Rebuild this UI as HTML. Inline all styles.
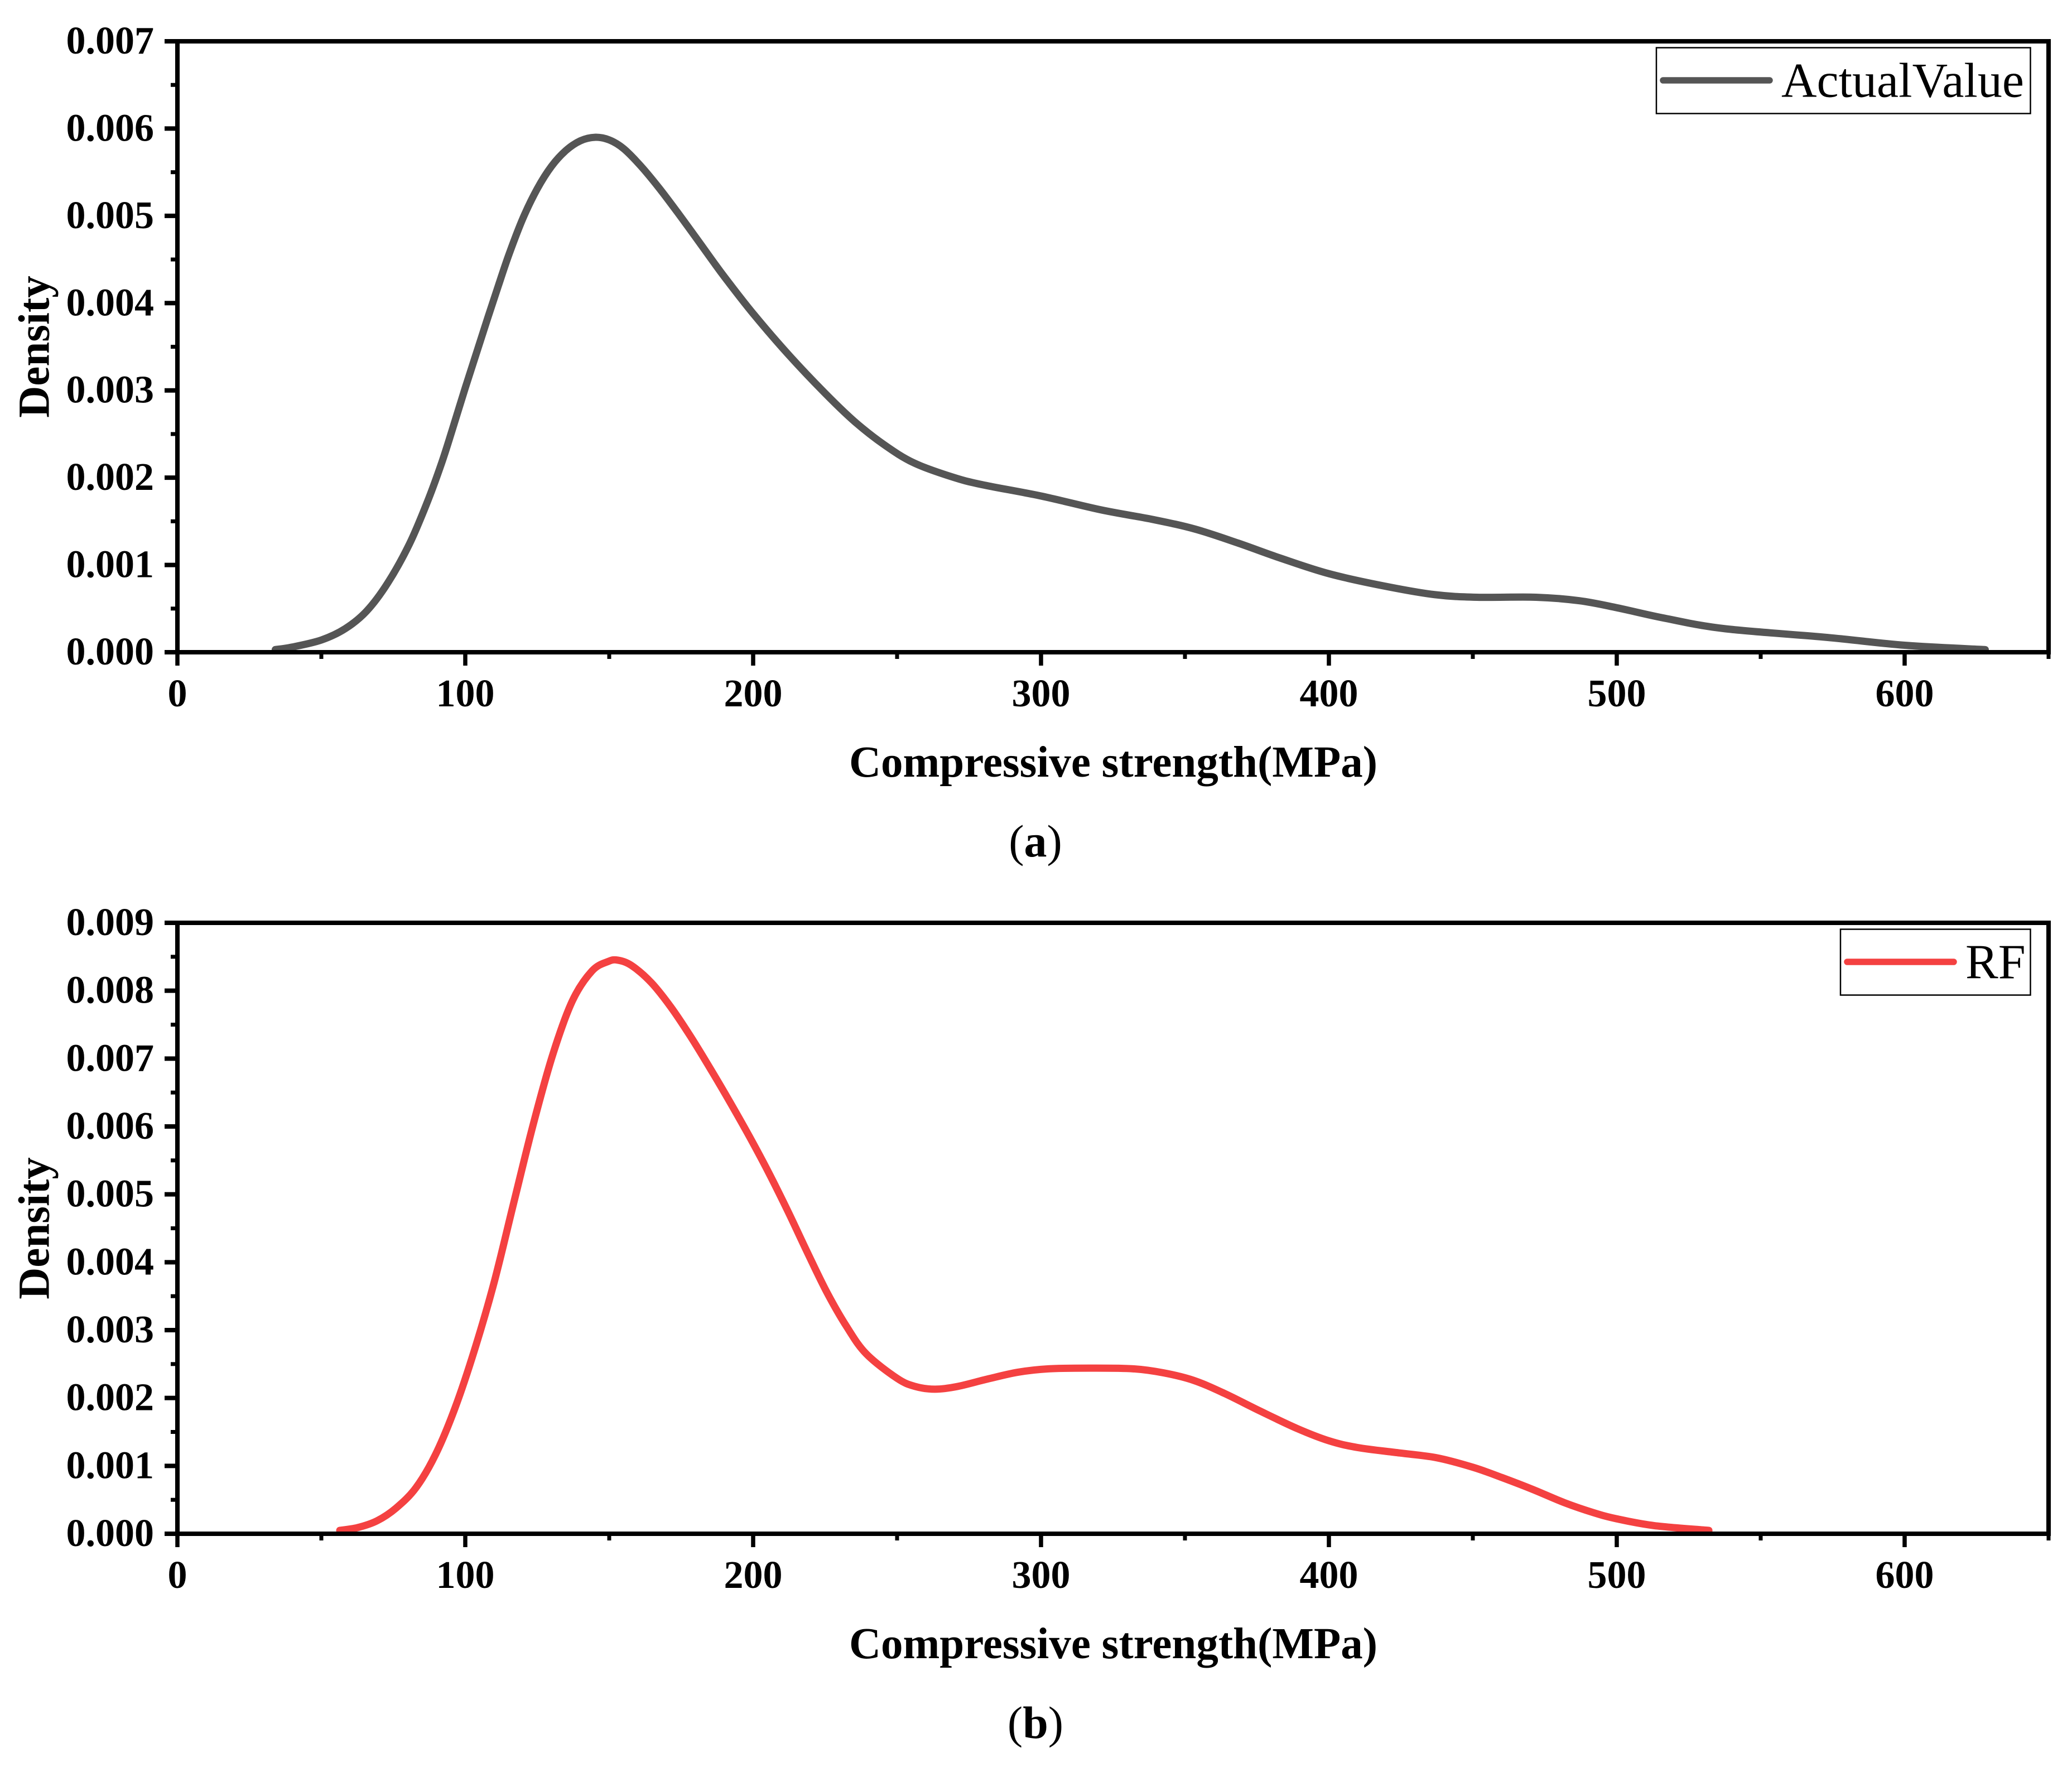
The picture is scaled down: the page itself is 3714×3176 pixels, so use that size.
<!DOCTYPE html>
<html lang="en">
<head>
<meta charset="utf-8">
<title>Density of compressive strength</title>
<style>
html,body{margin:0;padding:0;background:#fff;}
svg{display:block;}
text{font-family:"Liberation Serif","Times New Roman",serif;fill:#000;}
.tick{font-size:70px;font-weight:700;}
.title{font-size:79px;font-weight:700;}
.legend{font-size:88px;font-weight:400;}
.cap{font-size:82px;font-weight:400;}
.cap tspan{font-weight:700;}
</style>
</head>
<body>
<svg id="figure" xmlns="http://www.w3.org/2000/svg" width="3714" height="3176" viewBox="0 0 3714 3176">
  <rect x="0" y="0" width="3714" height="3176" fill="#ffffff"/>
  <g id="panel-a"></g>
  <g id="panel-b"></g>
</svg>
<script>
const actualStrength = [34,40,50,58.3,65.7,73,80.6,86.8,91.7,95.4,100,104,107.8,111.5,115.2,120,125,130,135,140,145,150,155,161,167.3,173.5,179.7,185.8,190.5,200,212,224.6,235,245.4,255.8,269,279.5,300,321,339,353.6,368.5,383,400,419,436.7,451.5,472,487,500,516.6,537.4,573,600,628];
const actualDensity = [0.00003,0.00006,0.00014,0.00027,0.00047,0.00079,0.00124,0.00172,0.00216,0.00254,0.00303,0.00344,0.00383,0.0042,0.00456,0.00497,0.00531,0.00557,0.00575,0.00586,0.0059,0.00587,0.00577,0.00557,0.00532,0.00505,0.00477,0.00449,0.00428,0.00388,0.00342,0.00298,0.00265,0.00238,0.00217,0.00201,0.00192,0.00179,0.00163,0.00152,0.00141,0.00125,0.00108,0.0009,0.00076,0.00066,0.00063,0.00063,0.00059,0.00051,0.00039,0.00027,0.00017,0.00008,0.00003];
const rfStrength = [56.4,62.5,69.3,76,82.9,89.7,96.5,103.3,110,116.8,123.6,130.4,137.2,144,149.6,153,157.8,164.6,171.4,178.2,185,191.8,198.6,205.4,212.2,219,225.7,232.5,239.3,250,256.3,263.2,271,281.5,292,302.6,317,332,342.6,353,363.6,376,389,400,410,424.6,437.4,450,460,471,481.7,492,500,513,532];
const rfDensity = [0.00005,0.00009,0.00019,0.00038,0.00068,0.00117,0.00186,0.00272,0.0037,0.00487,0.00603,0.00706,0.00785,0.00829,0.00843,0.00845,0.00837,0.00812,0.00776,0.00733,0.00686,0.00637,0.00586,0.00532,0.00474,0.00413,0.00355,0.00305,0.00265,0.00229,0.00217,0.00213,0.00217,0.00228,0.00238,0.00243,0.00244,0.00243,0.00237,0.00226,0.00207,0.00181,0.00155,0.00137,0.00127,0.00119,0.00112,0.00098,0.00083,0.00065,0.00046,0.00031,0.00022,0.00012,0.00005];
const xMajorTicks = [0,100,200,300,400,500,600];
const xMinorTicks = [50,150,250,350,450,550,650];
const yMajorTicksA = ["0.000","0.001","0.002","0.003","0.004","0.005","0.006","0.007"];
const yMajorTicksB = ["0.000","0.001","0.002","0.003","0.004","0.005","0.006","0.007","0.008","0.009"];
const xAxisTitle = "Compressive strength(MPa)";
const yAxisTitle = "Density";

const NS = "http://www.w3.org/2000/svg";

function make(parent, tag, attrs, content) {
  const el = document.createElementNS(NS, tag);
  for (const k in attrs) el.setAttribute(k, attrs[k]);
  if (content !== undefined) el.textContent = content;
  parent.appendChild(el);
  return el;
}

function smoothPath(points) {
  let d = "M" + points[0][0].toFixed(2) + " " + points[0][1].toFixed(2);
  for (let i = 0; i < points.length - 1; i++) {
    const p0 = points[Math.max(0, i - 1)];
    const p1 = points[i];
    const p2 = points[i + 1];
    const p3 = points[Math.min(points.length - 1, i + 2)];
    const c1x = p1[0] + (p2[0] - p0[0]) / 6;
    const c1y = p1[1] + (p2[1] - p0[1]) / 6;
    const c2x = p2[0] - (p3[0] - p1[0]) / 6;
    const c2y = p2[1] - (p3[1] - p1[1]) / 6;
    d += "C" + c1x.toFixed(2) + " " + c1y.toFixed(2) + " " + c2x.toFixed(2) + " " + c2y.toFixed(2) + " " + p2[0].toFixed(2) + " " + p2[1].toFixed(2);
  }
  return d;
}

function drawPanel(cfg) {
  const g = document.getElementById(cfg.id);
  const xLeft = 318, pxPerUnit = 5.16, xMax = 650;
  const sx = v => xLeft + v * pxPerUnit;
  const yMaxVal = parseFloat(cfg.yTicks[cfg.yTicks.length - 1]);
  const sy = v => cfg.yBottom - (v / yMaxVal) * (cfg.yBottom - cfg.yTop);
  const xRight = sx(xMax);

  const curve = make(g, "path", {
    d: smoothPath(cfg.xs.map((x, i) => [sx(x), sy(cfg.ys[i])])),
    fill: "none", stroke: cfg.color, "stroke-width": 13,
    "stroke-linecap": "round", "stroke-linejoin": "round"
  });
  
  

  const frame = make(g, "path", {
    d: "M" + xLeft + " " + cfg.yTop + "H" + xRight + "V" + cfg.yBottom + "H" + xLeft + "Z",
    fill: "none", stroke: "#000", "stroke-width": 8
  });
  
  

  xMajorTicks.forEach(v => {
    const t = make(g, "line", { x1: sx(v), x2: sx(v), y1: cfg.yBottom, y2: cfg.yBottom + 24, stroke: "#000", "stroke-width": 7.5 });
    
    
    const l = make(g, "text", { class: "tick", x: sx(v), y: cfg.yBottom + 97, "text-anchor": "middle" }, String(v));
    
    
  });
  xMinorTicks.forEach(v => {
    const t = make(g, "line", { x1: sx(v), x2: sx(v), y1: cfg.yBottom, y2: cfg.yBottom + 12, stroke: "#000", "stroke-width": 7 });
    
    
  });

  cfg.yTicks.forEach((label, i) => {
    const v = parseFloat(label);
    const t = make(g, "line", { x1: 295, x2: xLeft, y1: sy(v), y2: sy(v), stroke: "#000", "stroke-width": 8 });
    
    
    const l = make(g, "text", { class: "tick", x: 276, y: sy(v) + 22, "text-anchor": "end" }, label);
    
    
    if (i < cfg.yTicks.length - 1) {
      const m = (v + parseFloat(cfg.yTicks[i + 1])) / 2;
      const mt = make(g, "line", { x1: 306, x2: xLeft, y1: sy(m), y2: sy(m), stroke: "#000", "stroke-width": 7 });
      
      
    }
  });

  const xTitle = make(g, "text", { class: "title", x: 1995.5, y: cfg.yBottom + 223, "text-anchor": "middle" }, xAxisTitle);
  
  

  const yMid = (cfg.yTop + cfg.yBottom) / 2;
  const yTitle = make(g, "text", { class: "title", x: 0, y: 0, "text-anchor": "middle", transform: "translate(87.5 " + yMid + ") rotate(-90)" }, yAxisTitle);
  
  

  const legend = make(g, "g", {});
  
  
  const lbTop = cfg.yTop + 11.5;
  const box = make(legend, "rect", { x: cfg.legendX, y: lbTop, width: 3639.5 - cfg.legendX, height: 118, fill: "#fff", stroke: "#000", "stroke-width": 2.5 });
  
  
  const sw = make(legend, "line", { x1: cfg.legendX + 12, x2: cfg.legendX + 203, y1: cfg.yTop + 70, y2: cfg.yTop + 70, stroke: cfg.color, "stroke-width": 11.5, "stroke-linecap": "round" });
  
  
  const lt = make(legend, "text", { class: "legend", x: cfg.legendX + 224, y: cfg.yTop + 99.5 }, cfg.legendLabel);
  
  

  const cap = make(g, "text", { class: "cap", x: 1856, y: cfg.yBottom + 366, "text-anchor": "middle" });
  
  
  cap.appendChild(document.createTextNode("("));
  make(cap, "tspan", {}, cfg.caption);
  cap.appendChild(document.createTextNode(")"));
}

drawPanel({
  id: "panel-a", xs: actualStrength, ys: actualDensity, yTicks: yMajorTicksA,
  yTop: 74, yBottom: 1169, color: "#555555", seriesName: "actual-value-density-curve",
  legendX: 2969, legendLabel: "ActualValue", caption: "a"
});
drawPanel({
  id: "panel-b", xs: rfStrength, ys: rfDensity, yTicks: yMajorTicksB,
  yTop: 1654, yBottom: 2749, color: "#F44141", seriesName: "rf-density-curve",
  legendX: 3299, legendLabel: "RF", caption: "b"
});
</script>
</body>
</html>
